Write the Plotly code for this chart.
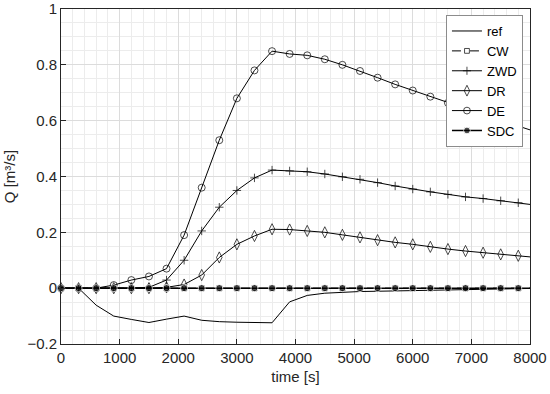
import plotly.graph_objects as go

# time axis: markers every 300 s, line ends at 8000 s
t = [0, 300, 600, 900, 1200, 1500, 1800, 2100, 2400, 2700, 3000, 3300, 3600,
     3900, 4200, 4500, 4800, 5100, 5400, 5700, 6000, 6300, 6600, 6900, 7200,
     7500, 7800, 8000]

ref = [0, 0, -0.061, -0.100, -0.112, -0.123, -0.111, -0.100, -0.115, -0.120,
       -0.122, -0.123, -0.124, -0.049, -0.026, -0.018, -0.014, -0.012, -0.011,
       -0.010, -0.008, -0.007, -0.006, -0.005, -0.004, -0.003, -0.002, -0.001]
cw = [0.0] * 28
zwd = [0, 0, 0, 0, 0.001, 0.003, 0.029, 0.100, 0.205, 0.290, 0.350, 0.395,
       0.423, 0.420, 0.417, 0.409, 0.399, 0.390, 0.378, 0.366, 0.355, 0.345,
       0.336, 0.327, 0.321, 0.313, 0.306, 0.300]
dr = [0, 0, 0, 0, 0, 0, 0.003, 0.013, 0.047, 0.110, 0.157, 0.187, 0.211,
      0.210, 0.205, 0.200, 0.191, 0.182, 0.172, 0.164, 0.157, 0.148, 0.140,
      0.133, 0.127, 0.121, 0.116, 0.112]
de = [0, 0, 0, 0.011, 0.029, 0.042, 0.070, 0.190, 0.360, 0.530, 0.680, 0.780,
      0.849, 0.839, 0.834, 0.820, 0.800, 0.778, 0.754, 0.730, 0.708, 0.686,
      0.664, 0.643, 0.622, 0.601, 0.580, 0.567]
sdc = [0.0] * 28

x_ticks = [0, 1000, 2000, 3000, 4000, 5000, 6000, 7000, 8000]
x_labels = ["0", "1000", "2000", "3000", "4000", "5000", "6000", "7000", "8000"]
y_ticks = [-0.2, 0, 0.2, 0.4, 0.6, 0.8, 1]
y_labels = ["\u22120.2", "0", "0.2", "0.4", "0.6", "0.8", "1"]

n = len(t)


def sizes(s):
    return [s] * (n - 1) + [0]


fig = go.Figure()
fig.add_trace(go.Scatter(x=t, y=ref, name="ref", mode="lines",
                         line=dict(color="black", width=1)))
fig.add_trace(go.Scatter(x=t, y=cw, name="CW", mode="lines+markers",
                         line=dict(color="black", width=1, dash="dash"),
                         marker=dict(symbol="square-open", size=sizes(5), color="black",
                                     line=dict(width=1))))
fig.add_trace(go.Scatter(x=t, y=zwd, name="ZWD", mode="lines+markers",
                         line=dict(color="black", width=1),
                         marker=dict(symbol="cross-thin", size=sizes(6), color="black",
                                     line=dict(width=1, color="black"))))
fig.add_trace(go.Scatter(x=t, y=dr, name="DR", mode="lines+markers",
                         line=dict(color="black", width=1),
                         marker=dict(symbol="diamond-tall-open", size=sizes(8), color="black",
                                     line=dict(width=1))))
fig.add_trace(go.Scatter(x=t, y=de, name="DE", mode="lines+markers",
                         line=dict(color="black", width=1),
                         marker=dict(symbol="circle-open", size=sizes(7), color="black",
                                     line=dict(width=1))))
fig.add_trace(go.Scatter(x=t, y=sdc, name="SDC", mode="lines+markers",
                         line=dict(color="black", width=1.5),
                         marker=dict(symbol="circle", size=sizes(7), color="black")))
fig.update_traces(cliponaxis=False)

FONT = "Liberation Sans, Arial"
axis_common = dict(
    showline=True, linecolor="#262626", linewidth=1, mirror=True,
    ticks="inside", ticklen=5, tickcolor="#262626",
    showgrid=True, gridcolor="#dcdcdc", gridwidth=1, zeroline=False,
    automargin=False,
    tickfont=dict(family=FONT, size=15, color="#262626"),
)

fig.update_xaxes(range=[0, 8000], tickvals=x_ticks, ticktext=x_labels,
                 minor=dict(dtick=200, showgrid=True, gridcolor="#ececec", ticks=""),
                 title=dict(text="time [s]", font=dict(family=FONT, size=15, color="#262626"),
                            standoff=6),
                 **axis_common)
fig.update_yaxes(range=[-0.2, 1], tickvals=y_ticks, ticktext=y_labels,
                 minor=dict(dtick=0.05, tick0=0, showgrid=True, gridcolor="#ececec", ticks=""),
                 title=dict(text="Q [m³/s]", font=dict(family=FONT, size=15, color="#262626"),
                            standoff=8),
                 **axis_common)

fig.update_layout(
    width=550, height=394,
    margin=dict(l=61, r=20, t=9, b=50),
    paper_bgcolor="white", plot_bgcolor="white",
    showlegend=True,
    legend=dict(x=0.985, y=0.982, xanchor="right", yanchor="top",
                bgcolor="white", bordercolor="#8c8c8c", borderwidth=1,
                font=dict(family=FONT, size=13, color="black"),
                tracegroupgap=0, itemwidth=30),
)

fig.write_html("out.html", config={"displayModeBar": False},
               post_script="document.body.style.margin='0';document.body.style.padding='0';")
